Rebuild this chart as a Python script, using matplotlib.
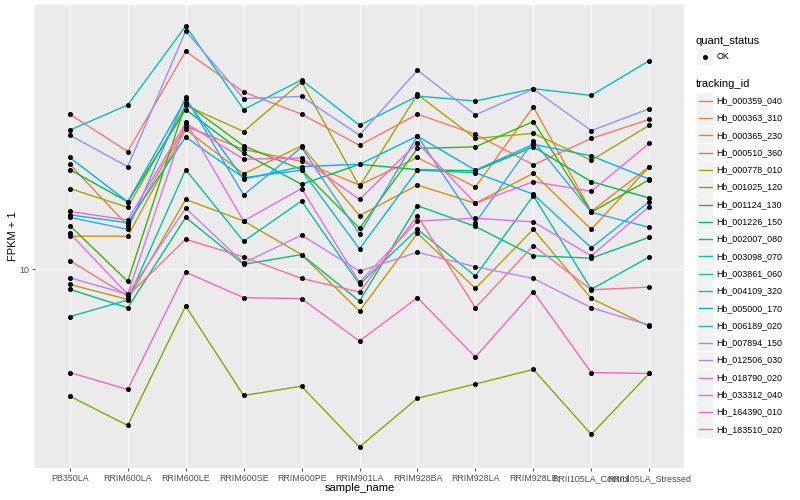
import matplotlib

matplotlib.use("Agg")
import matplotlib.pyplot as plt
from matplotlib.lines import Line2D
from matplotlib.patches import Rectangle
from matplotlib.ticker import NullLocator
import numpy as np

plt.rcParams["font.family"] = ["Liberation Sans", "DejaVu Sans"]

samples = [
    "PB350LA", "RRIM600LA", "RRIM600LE", "RRIM600SE", "RRIM600PE", "RRIM901LA",
    "RRIM928BA", "RRIM928LA", "RRIM928LE", "RRII105LA_Control", "RRII105LA_Stressed",
]
tracking_ids = [
    "Hb_000359_040", "Hb_000363_310", "Hb_000365_230", "Hb_000510_360", "Hb_000778_010",
    "Hb_001025_120", "Hb_001124_130", "Hb_001226_150", "Hb_002007_080", "Hb_003098_070",
    "Hb_003861_060", "Hb_004109_320", "Hb_005000_170", "Hb_006189_020", "Hb_007894_150",
    "Hb_012506_030", "Hb_018790_020", "Hb_033312_040", "Hb_164390_010", "Hb_183510_020",
]
colors = [
    "#F8766D", "#EA8331", "#D89000", "#C09B00", "#A3A500", "#7CAE00", "#39B600",
    "#00BB4E", "#00BF7D", "#00C1A3", "#00BFC4", "#00BAE0", "#00B0F6", "#35A2FF",
    "#9590FF", "#C77CFF", "#E76BF3", "#FA62DB", "#FF62BC", "#FF6C91",
]

# FPKM + 1, one list per gene, in sample order
hb_000359_040 = [32.9, 24.7, 53.3, 39.0, 32.9, 25.9, 32.9, 28.2, 22.3, 27.3, 31.6]
hb_000363_310 = [22.4, 14.0, 30.0, 25.1, 22.9, 19.1, 23.6, 18.8, 34.8, 15.6, 22.0]
hb_000365_230 = [12.9, 12.9, 29.3, 20.8, 25.8, 15.1, 19.1, 16.6, 20.9, 13.6, 22.0]
hb_000510_360 = [8.91, 7.94, 17.1, 14.5, 11.2, 7.26, 13.2, 8.64, 13.6, 8.00, 6.46]
hb_000778_010 = [18.6, 16.1, 35.2, 28.8, 42.2, 18.9, 38.3, 27.3, 28.4, 23.1, 30.2]
hb_001025_120 = [3.78, 3.02, 7.55, 3.80, 4.08, 2.56, 3.72, 4.15, 4.64, 2.82, 4.50]
hb_001124_130 = [14.0, 9.12, 35.8, 25.8, 21.5, 13.7, 25.3, 25.6, 31.1, 15.5, 19.9]
hb_001226_150 = [21.5, 16.8, 34.1, 24.4, 19.2, 22.4, 21.5, 21.3, 25.6, 19.6, 17.3]
hb_002007_080 = [8.58, 7.45, 14.9, 10.4, 11.2, 7.84, 16.3, 13.9, 11.1, 10.9, 12.8]
hb_003098_070 = [6.96, 7.90, 21.5, 12.4, 16.9, 8.91, 13.6, 9.50, 17.6, 8.58, 11.0]
hb_003861_060 = [29.1, 35.3, 64.7, 34.1, 42.8, 30.2, 37.8, 36.4, 40.0, 38.0, 49.6]
hb_004109_320 = [15.2, 14.3, 27.6, 20.2, 21.4, 11.7, 21.4, 21.0, 17.8, 11.8, 16.8]
hb_005000_170 = [23.6, 16.8, 36.9, 20.0, 22.0, 22.4, 27.8, 21.4, 26.1, 23.9, 20.0]
hb_006189_020 = [14.9, 13.6, 37.4, 17.7, 25.5, 13.1, 27.8, 14.3, 26.8, 15.5, 13.8]
hb_007894_150 = [28.0, 22.0, 62.3, 37.1, 37.7, 28.0, 46.1, 32.7, 39.9, 29.0, 34.3]
hb_012506_030 = [9.38, 8.26, 16.0, 10.5, 13.0, 9.87, 11.4, 10.2, 9.33, 7.45, 6.52]
hb_018790_020 = [13.2, 8.26, 31.1, 14.5, 18.6, 9.05, 14.5, 14.8, 14.4, 11.1, 16.2]
hb_033312_040 = [15.6, 14.6, 30.7, 23.3, 23.5, 17.1, 26.4, 16.6, 19.6, 18.2, 26.3]
hb_164390_010 = [4.53, 3.98, 9.79, 8.05, 7.99, 5.77, 8.05, 5.10, 8.43, 4.53, 4.50]
hb_183510_020 = [10.7, 8.15, 12.6, 11.0, 9.33, 8.40, 15.1, 7.45, 12.0, 8.55, 8.73]

series = [
    hb_000359_040, hb_000363_310, hb_000365_230, hb_000510_360, hb_000778_010,
    hb_001025_120, hb_001124_130, hb_001226_150, hb_002007_080, hb_003098_070,
    hb_003861_060, hb_004109_320, hb_005000_170, hb_006189_020, hb_007894_150,
    hb_012506_030, hb_018790_020, hb_033312_040, hb_164390_010, hb_183510_020,
]

W, H = 800, 500
fig = plt.figure(figsize=(8, 5), dpi=100)
fig.patch.set_facecolor("white")


def fx(px):
    return px / W


def fy(py):
    return 1 - py / H


ax = fig.add_axes([fx(35), fy(468), fx(684) - fx(35), fy(5) - fy(468)])
ax.set_facecolor("#EBEBEB")
x = np.arange(len(samples))

for values, color in zip(series, colors):
    ax.plot(x, values, color=color, linewidth=1.0, zorder=2)
for values in series:
    ax.plot(x, values, linestyle="none", marker="o", markersize=2.6,
            color="black", zorder=3)

# log scale with ggplot-like 5% expansion
logs = np.log10(np.concatenate(series))
lo, hi = logs.min(), logs.max()
pad = (hi - lo) * 0.05
ax.set_yscale("log")
ax.set_ylim(10 ** (lo - pad), 10 ** (hi + pad))
ax.set_xlim(-0.6, len(samples) - 0.4)
ax.set_yticks([10])
ax.set_yticklabels(["10"])
ax.yaxis.set_minor_locator(NullLocator())
ax.set_xticks(x)
ax.set_xticklabels(samples)
ax.grid(True, color="white", linewidth=0.8, zorder=0)
ax.set_axisbelow(True)
for spine in ax.spines.values():
    spine.set_visible(False)
ax.tick_params(axis="both", colors="#333333", length=2.2, width=0.6,
               labelsize=6.4, labelcolor="#4D4D4D", pad=2)
ax.set_xlabel("sample_name", fontsize=8, labelpad=0)
ax.set_ylabel("FPKM + 1", fontsize=8, labelpad=1)

# legends, ggplot style keys
fig.text(fx(696), fy(40.5), "quant_status", fontsize=8, va="center", ha="left")
fig.patches.append(Rectangle((fx(696.5), fy(65)), fx(16.5), fy(48.5) - fy(65),
                             transform=fig.transFigure, facecolor="#F2F2F2",
                             edgecolor="none"))
fig.lines.append(Line2D([fx(705)], [fy(56.7)], marker="o", markersize=2.6,
                        color="black", transform=fig.transFigure))
fig.text(fx(716.5), fy(56.7), "OK", fontsize=6.4, va="center", ha="left")

fig.text(fx(696), fy(84), "tracking_id", fontsize=8, va="center", ha="left")
step = 17.3
for i, (name, color) in enumerate(zip(tracking_ids, colors)):
    yc = 100.7 + i * step
    fig.patches.append(Rectangle((fx(696.5), fy(yc + step / 2 - 0.5)), fx(16.5),
                                 fy(yc - step / 2 + 0.5) - fy(yc + step / 2 - 0.5),
                                 transform=fig.transFigure, facecolor="#F2F2F2",
                                 edgecolor="none"))
    fig.lines.append(Line2D([fx(698.5), fx(711.5)], [fy(yc), fy(yc)], color=color,
                            linewidth=1.0, transform=fig.transFigure))
    fig.text(fx(716.5), fy(yc), name, fontsize=6.4, va="center", ha="left")

fig.savefig("out.png", dpi=100)
